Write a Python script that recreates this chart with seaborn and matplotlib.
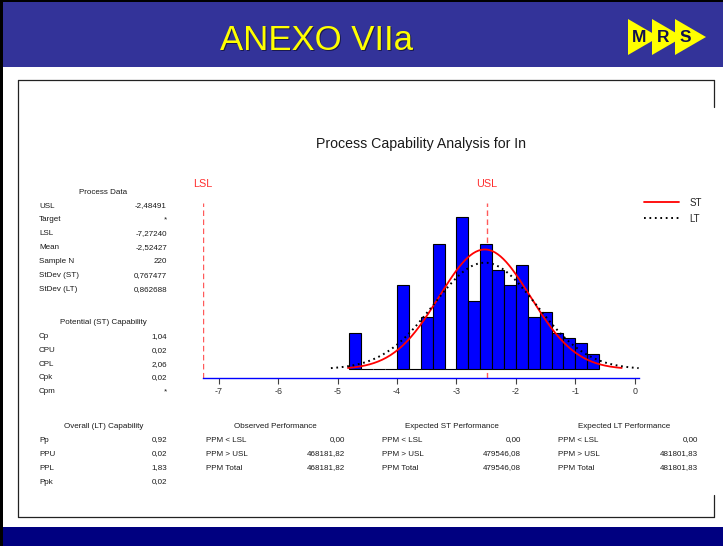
import numpy as np
import pandas as pd
import matplotlib
matplotlib.use('Agg')
import matplotlib.pyplot as plt
import seaborn as sns
from matplotlib.patches import Rectangle, Polygon
from matplotlib.lines import Line2D

# ---- histogram data (bin width 0.2) ----
bin_edges = [-4.8, -4.6, -4.4, -4.2, -4.0, -3.8, -3.6, -3.4, -3.2, -3.0, -2.8,
             -2.6, -2.4, -2.2, -2.0, -1.8, -1.6, -1.4, -1.2, -1.0, -0.8, -0.6]
bin_counts = [7, 0, 0, 0, 16, 0, 10, 24, 0, 29, 13,
              24, 19, 16, 20, 10, 11, 7, 6, 5, 3]

# ---- process parameters ----
lsl = -7.27240
usl = -2.48491
mean = -2.52427
sd_st = 0.767477
sd_lt = 0.862688
n_obs = 220
bin_w = 0.2

x_ticks = [-7, -6, -5, -4, -3, -2, -1, 0]

process_labels = ['USL', 'Target', 'LSL', 'Mean', 'Sample N', 'StDev (ST)', 'StDev (LT)']
process_values = ['-2,48491', '*', '-7,27240', '-2,52427', '220', '0,767477', '0,862688']

pot_labels = ['Cp', 'CPU', 'CPL', 'Cpk', 'Cpm']
pot_values = ['1,04', '0,02', '2,06', '0,02', '*']

overall_labels = ['Pp', 'PPU', 'PPL', 'Ppk']
overall_values = ['0,92', '0,02', '1,83', '0,02']

ppm_labels = ['PPM < LSL', 'PPM > USL', 'PPM Total']
obs_values = ['0,00', '468181,82', '468181,82']
exp_st_values = ['0,00', '479546,08', '479546,08']
exp_lt_values = ['0,00', '481801,83', '481801,83']

W, H = 723, 546


def fx(px):
    return px / W


def fy(py):
    return 1 - py / H


sns.set_theme(style='ticks')
plt.rcParams['font.family'] = ['Liberation Sans', 'DejaVu Sans']
plt.rcParams['axes.unicode_minus'] = False

fig = plt.figure(figsize=(W / 100, H / 100), dpi=100)
fig.patch.set_facecolor('white')

# ---- page decoration ----
def frect(x0, y0, x1, y1, color):
    fig.patches.append(Rectangle((fx(x0), fy(y1)), fx(x1) - fx(x0), fy(y0) - fy(y1),
                                 transform=fig.transFigure, color=color, lw=0, zorder=0))

frect(0, 0, W, 67, '#333399')
frect(0, 527, W, H, '#000080')
frect(0, 0, 3, H, 'black')
frect(0, 0, W, 2, 'black')

fig.text(fx(317.5), fy(41.5), 'ANEXO VIIa', color='#1a1a4d', fontsize=25,
         ha='center', va='center')
fig.text(fx(316), fy(40), 'ANEXO VIIa', color='#ffff00', fontsize=25,
         ha='center', va='center')

# logo
for left in [628, 652, 675]:
    tri = [(fx(left), fy(19)), (fx(left), fy(55)), (fx(left + 31), fy(37))]
    fig.patches.append(Polygon(tri, closed=True, transform=fig.transFigure,
                               color='#ffff00', lw=0, zorder=1))
for letter, cx in zip(['M', 'R', 'S'], [639, 663, 685]):
    fig.text(fx(cx), fy(38), letter, color='#101050', fontsize=12.5,
             fontweight='heavy', ha='center', va='center')

# panel frame
frame_kw = dict(transform=fig.transFigure, color='#222222', lw=0.9)
fig.lines.append(Line2D([fx(18), fx(714)], [fy(79.5), fy(79.5)], **frame_kw))
fig.lines.append(Line2D([fx(18.3), fx(18.3)], [fy(79.5), fy(516.7)], **frame_kw))
fig.lines.append(Line2D([fx(18), fx(714)], [fy(516.7), fy(516.7)], **frame_kw))
fig.lines.append(Line2D([fx(714.3), fx(714.3)], [fy(79.5), fy(106.7)], **frame_kw))
fig.lines.append(Line2D([fx(714.3), fx(714.3)], [fy(495), fy(516.7)], **frame_kw))

# ---- main histogram ----
ax = fig.add_axes([fx(202.5), fy(378), fx(639) - fx(202.5), fy(203) - fy(378)])
ax.set_facecolor('none')

centers = [(a + b) / 2 for a, b in zip(bin_edges[:-1], bin_edges[1:])]
hist_df = pd.DataFrame({'x': centers, 'count': bin_counts})
sns.histplot(data=hist_df, x='x', weights='count', bins=bin_edges, ax=ax,
             color='#0000ff', edgecolor='black', linewidth=0.8, alpha=1)

spec_color = '#ff5a5a'
ax.axvline(lsl, color=spec_color, lw=1, ls=(0, (4, 2.5)), zorder=0.5)
ax.axvline(usl, color=spec_color, lw=1, ls=(0, (4, 2.5)), zorder=0.5)

# fitted normal curves over mean +/- 3 sd
xs_st = np.linspace(mean - 3 * sd_st, mean + 3 * sd_st, 200)
ys_st = n_obs * bin_w * np.exp(-0.5 * ((xs_st - mean) / sd_st) ** 2) / (sd_st * np.sqrt(2 * np.pi))
xs_lt = np.linspace(mean - 3 * sd_lt, mean + 3 * sd_lt, 200)
ys_lt = n_obs * bin_w * np.exp(-0.5 * ((xs_lt - mean) / sd_lt) ** 2) / (sd_lt * np.sqrt(2 * np.pi))

sns.lineplot(x=xs_st, y=ys_st, ax=ax, color='#ff0000', lw=1.3, label='ST', zorder=3)
sns.lineplot(x=xs_lt, y=ys_lt, ax=ax, color='black', lw=1.4,
             linestyle=(0, (0.9, 1.9)), label='LT', zorder=3)

ax.set_xlim(lsl, 0.07)
ax.set_ylim(-1.66, 31.74)
ax.set_xticks(x_ticks)
ax.set_xticklabels([str(t) for t in x_ticks])
ax.set_yticks([])
ax.set_xlabel('')
ax.set_ylabel('')
sns.despine(ax=ax, left=True)
ax.spines['bottom'].set_color('#0000ff')
ax.spines['bottom'].set_linewidth(1.0)
ax.tick_params(axis='x', direction='out', length=4.5, width=0.8, color='#404040',
               labelsize=6.4, pad=2, labelcolor='#333333')

ax.text(lsl, 31.74 + 3.6, 'LSL', color='#ff3030', fontsize=7.8, ha='center', va='center')
ax.text(usl, 31.74 + 3.6, 'USL', color='#ff3030', fontsize=7.8, ha='center', va='center')

ax.legend(loc='upper left', bbox_to_anchor=(fx(643.5), fy(197.5)),
          bbox_transform=fig.transFigure, frameon=False, fontsize=7,
          handlelength=3.6, handletextpad=1.1, labelspacing=0.65,
          borderpad=0, borderaxespad=0)

fig.text(fx(421), fy(144), 'Process Capability Analysis for In', fontsize=10.2,
         color='#1a1a1a', ha='center', va='center')

# ---- statistics text ----
txt_kw = dict(fontsize=5.8, color='#1a1a1a', va='center')

fig.text(fx(103), fy(192), 'Process Data', ha='center', **txt_kw)
for i, (lab, val) in enumerate(zip(process_labels, process_values)):
    y = 206 + 13.9 * i
    fig.text(fx(39), fy(y), lab, ha='left', **txt_kw)
    fig.text(fx(167), fy(y), val, ha='right', **txt_kw)

fig.text(fx(103), fy(323), 'Potential (ST) Capability', ha='center', **txt_kw)
for i, (lab, val) in enumerate(zip(pot_labels, pot_values)):
    y = 337 + 13.6 * i
    fig.text(fx(39), fy(y), lab, ha='left', **txt_kw)
    fig.text(fx(167), fy(y), val, ha='right', **txt_kw)

bottom_tables = [
    ('Overall (LT) Capability', overall_labels, overall_values, 104, 39, 167),
    ('Observed Performance', ppm_labels, obs_values, 275, 206, 345),
    ('Expected ST Performance', ppm_labels, exp_st_values, 452, 382.5, 521),
    ('Expected LT Performance', ppm_labels, exp_lt_values, 624, 557.5, 698),
]
for title, labs, vals, cx, lx, rx in bottom_tables:
    fig.text(fx(cx), fy(426), title, ha='center', **txt_kw)
    for i, (lab, val) in enumerate(zip(labs, vals)):
        y = 440 + 14 * i
        fig.text(fx(lx), fy(y), lab, ha='left', **txt_kw)
        fig.text(fx(rx), fy(y), val, ha='right', **txt_kw)

fig.savefig('out.png', dpi=100)
